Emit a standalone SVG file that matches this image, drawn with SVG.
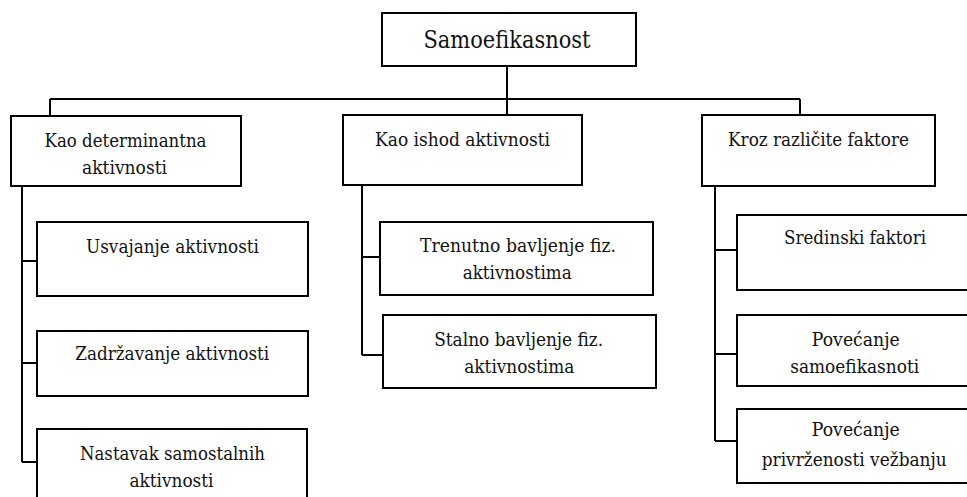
<svg xmlns="http://www.w3.org/2000/svg" width="967" height="497" viewBox="0 0 967 497">
<style>
.box{fill:#fff;stroke:#000;stroke-width:2}
.ln{fill:none;stroke:#000;stroke-width:2}
text{font-family:"DejaVu Serif",serif;fill:#111;text-anchor:middle}
.t{font-size:24px}
.s{font-size:19.3px}
</style>
<rect width="967" height="497" fill="#fff"/>
<g id="connectors">
<path class="ln" d="M507,66V99M50,99H800M50,99V116M507,99V115M800,99V115"/>
<path class="ln" d="M22,186V462M22,261H37M22,363H37M22,462H37"/>
<path class="ln" d="M362,185V355M362,257H380M362,355H383"/>
<path class="ln" d="M715,186V441M715,250H737M715,354H737M715,441H737"/>
</g>
<g id="root"><rect class="box" x="382" y="13" width="254" height="53"/><text class="t" x="507" y="48" textLength="167" lengthAdjust="spacingAndGlyphs">Samoefikasnost</text></g>
<g id="determinanta"><rect class="box" x="11" y="116" width="230" height="70"/><text class="s" x="125.5" y="146.5" textLength="162" lengthAdjust="spacingAndGlyphs">Kao determinantna</text><text class="s" x="124.5" y="173.5" textLength="85" lengthAdjust="spacingAndGlyphs">aktivnosti</text></g>
<g id="ishod"><rect class="box" x="343" y="115" width="239" height="70"/><text class="s" x="462.5" y="145.5" textLength="175" lengthAdjust="spacingAndGlyphs">Kao ishod aktivnosti</text></g>
<g id="faktori"><rect class="box" x="702" y="115" width="233" height="71"/><text class="s" x="818.5" y="146" textLength="181" lengthAdjust="spacingAndGlyphs">Kroz različite faktore</text></g>
<g id="usvajanje"><rect class="box" x="37" y="222" width="271" height="74"/><text class="s" x="172.5" y="252.5" textLength="173" lengthAdjust="spacingAndGlyphs">Usvajanje aktivnosti</text></g>
<g id="zadrzavanje"><rect class="box" x="37" y="331" width="271" height="65"/><text class="s" x="172.2" y="360" textLength="194" lengthAdjust="spacingAndGlyphs">Zadržavanje aktivnosti</text></g>
<g id="nastavak"><rect class="box" x="37" y="429" width="270" height="80"/><text class="s" x="172.5" y="459.5" textLength="185" lengthAdjust="spacingAndGlyphs">Nastavak samostalnih</text><text class="s" x="171.5" y="486.5" textLength="84" lengthAdjust="spacingAndGlyphs">aktivnosti</text></g>
<g id="trenutno"><rect class="box" x="380" y="222" width="273" height="73"/><text class="s" x="518" y="251.5" textLength="196" lengthAdjust="spacingAndGlyphs">Trenutno bavljenje fiz.</text><text class="s" x="517.2" y="279" textLength="109" lengthAdjust="spacingAndGlyphs">aktivnostima</text></g>
<g id="stalno"><rect class="box" x="383" y="315" width="273" height="73"/><text class="s" x="518.7" y="345.5" textLength="169" lengthAdjust="spacingAndGlyphs">Stalno bavljenje fiz.</text><text class="s" x="519.3" y="373" textLength="110" lengthAdjust="spacingAndGlyphs">aktivnostima</text></g>
<g id="sredinski"><rect class="box" x="737" y="215" width="236" height="75"/><text class="s" x="855" y="244" textLength="142" lengthAdjust="spacingAndGlyphs">Sredinski faktori</text></g>
<g id="povecanje-samo"><rect class="box" x="737" y="315" width="236" height="71"/><text class="s" x="855.8" y="345.5" textLength="88" lengthAdjust="spacingAndGlyphs">Povećanje</text><text class="s" x="854.7" y="372.5" textLength="129" lengthAdjust="spacingAndGlyphs">samoefikasnoti</text></g>
<g id="povecanje-privr"><rect class="box" x="737" y="409" width="236" height="74"/><text class="s" x="855.8" y="436" textLength="88" lengthAdjust="spacingAndGlyphs">Povećanje</text><text class="s" x="854.2" y="466" textLength="185" lengthAdjust="spacingAndGlyphs">privrženosti vežbanju</text></g>
</svg>
